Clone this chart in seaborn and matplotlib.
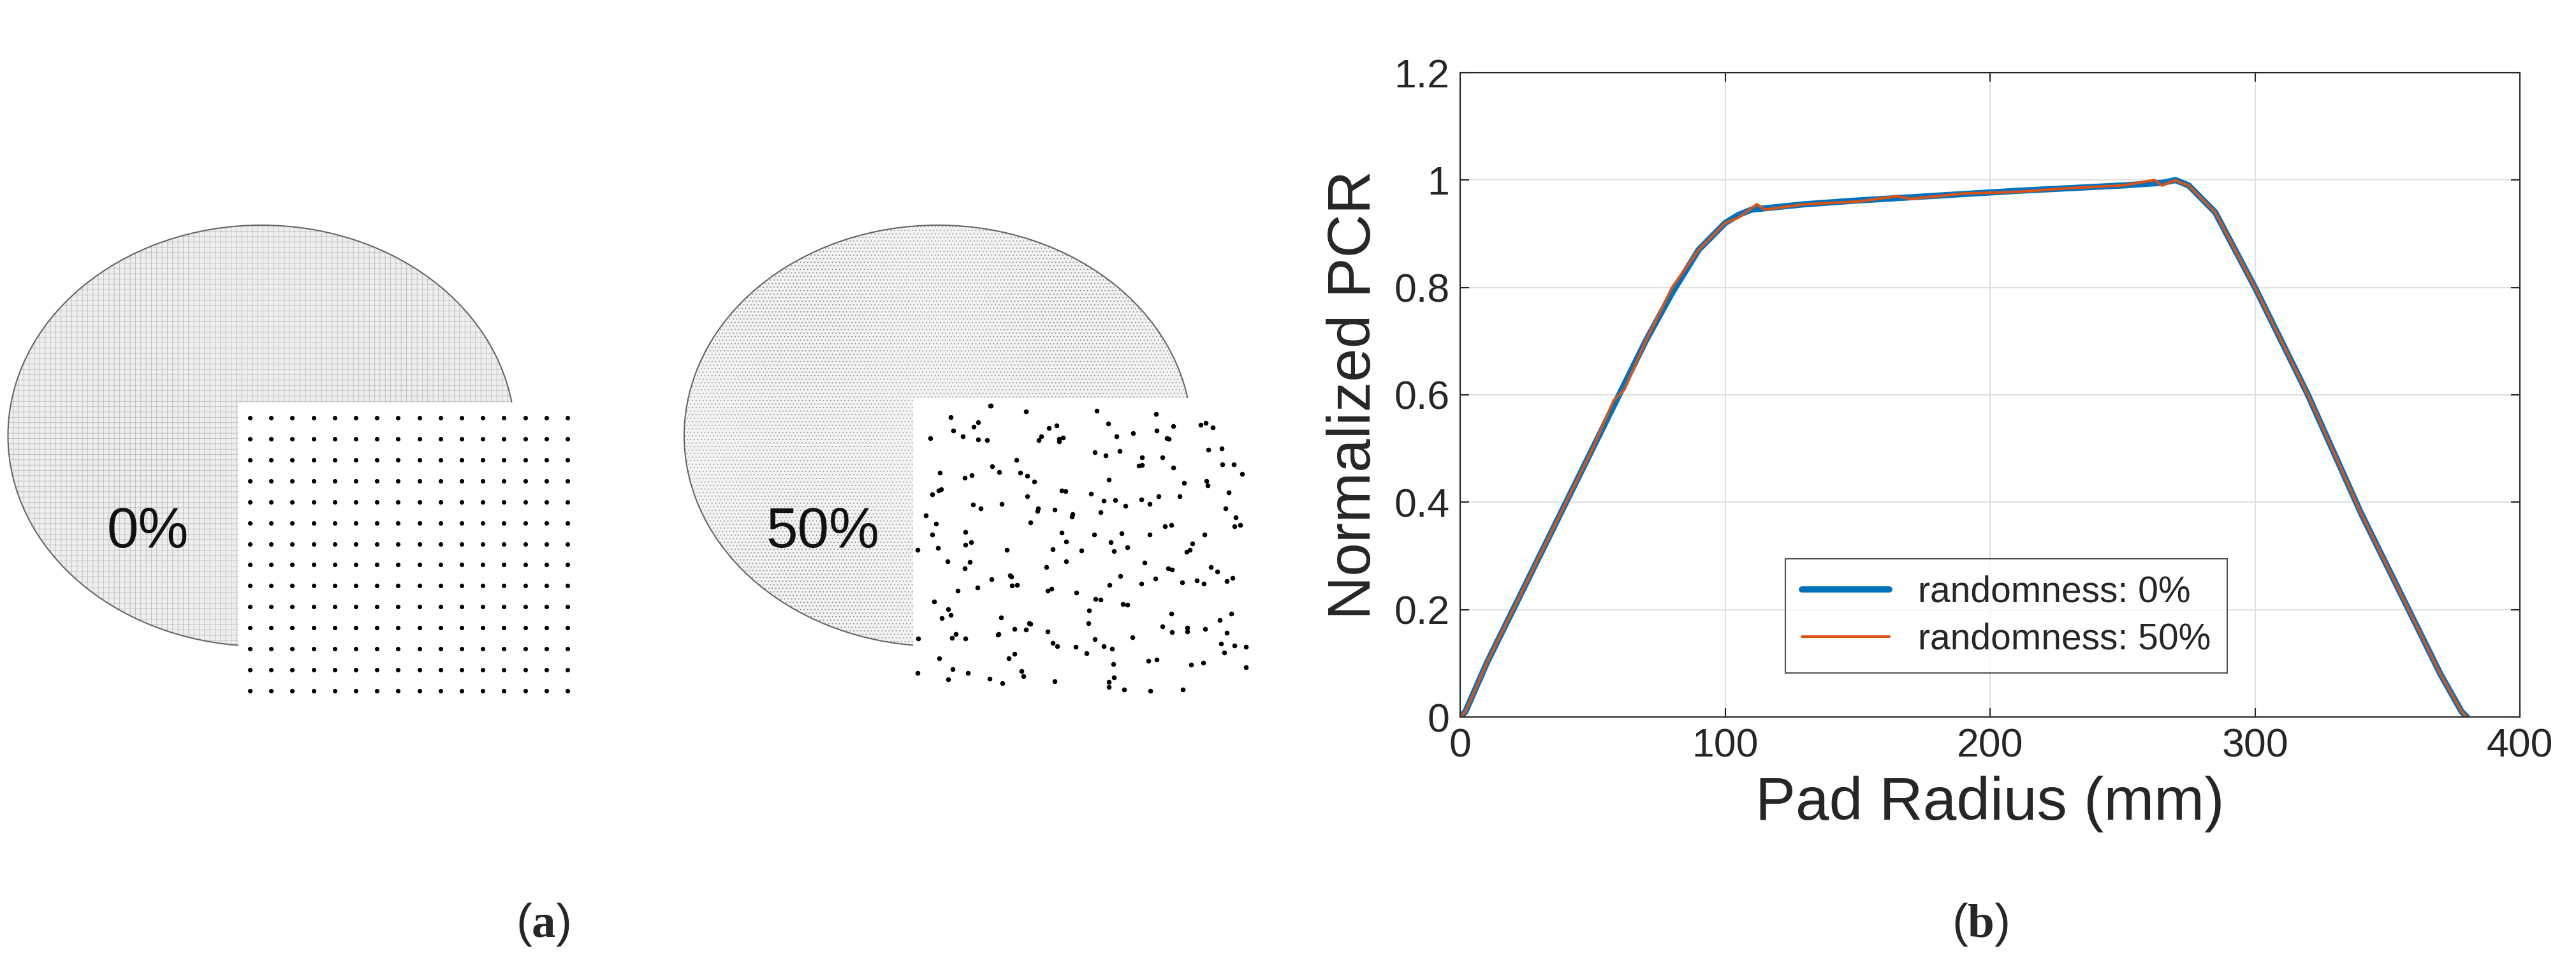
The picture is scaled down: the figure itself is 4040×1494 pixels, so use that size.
import numpy as np
import matplotlib
matplotlib.use("Agg")
import matplotlib.pyplot as plt
from matplotlib.patches import Ellipse, Rectangle
import seaborn as sns
import pandas as pd

sns.set_theme(style="white")
plt.rcParams['font.family'] = ['Liberation Sans', 'DejaVu Sans']
plt.rcParams['mathtext.fontset'] = 'custom'
plt.rcParams['mathtext.rm'] = 'Liberation Serif'
plt.rcParams['mathtext.bf'] = 'Liberation Serif:bold'

# ---- data (panel b) ----
radius_0 = [0, 2, 10, 20, 30, 40, 50, 60, 70, 80, 90, 100, 105, 110, 130, 150, 170, 190, 210, 230, 250, 265, 270, 275, 285, 300, 320, 340, 360, 370, 378, 380]
pcr_0 = [0.0, 0.01, 0.1, 0.2, 0.3, 0.4, 0.5, 0.6, 0.7, 0.79, 0.87, 0.92, 0.935, 0.945, 0.955, 0.962, 0.968, 0.974, 0.98, 0.985, 0.99, 0.995, 1.0, 0.99, 0.94, 0.8, 0.6, 0.38, 0.18, 0.08, 0.01, 0.0]
radius_50 = [0, 2, 10, 20, 30, 40, 50, 58, 62, 70, 80, 90, 100, 105, 112, 115, 130, 150, 165, 170, 190, 210, 230, 250, 262, 265, 270, 272, 275, 285, 300, 320, 340, 360, 370, 378, 380]
pcr_50 = [0.0, 0.01, 0.1, 0.2, 0.3, 0.4, 0.5, 0.59, 0.61, 0.7, 0.8, 0.87, 0.92, 0.93, 0.955, 0.945, 0.955, 0.96, 0.97, 0.965, 0.975, 0.978, 0.985, 0.99, 1.0, 0.99, 1.0, 0.995, 0.99, 0.94, 0.8, 0.6, 0.38, 0.18, 0.08, 0.01, 0.0]
series_labels = ["randomness: 0%", "randomness: 50%"]
xticks = [0, 100, 200, 300, 400]
yticks = [0, 0.2, 0.4, 0.6, 0.8, 1.0, 1.2]
ytick_labels = ["0", "0.2", "0.4", "0.6", "0.8", "1", "1.2"]

# ---- panel a illustration ----
grid_cols, grid_rows = 16, 14
pct_labels = ["0%", "50%"]

W, H = 4040, 1494
fig = plt.figure(figsize=(W/100, H/100), dpi=100)
fig.patch.set_facecolor("white")

axa = fig.add_axes([0, 0, 1, 1])
axa.set_xlim(0, W); axa.set_ylim(H, 0); axa.axis("off")

def draw_disk(cx, cy, w, h, hatch, fc, hc):
    axa.add_patch(Ellipse((cx, cy), w, h, facecolor=fc, edgecolor=hc, lw=0, hatch=hatch))
    axa.add_patch(Ellipse((cx, cy), w, h, facecolor="none", edgecolor="#666666", lw=1.5))

plt.rcParams['hatch.linewidth'] = 0.5
draw_disk(410, 683, 795, 660, "++", "#eeeeee", "#b5b5b5")
draw_disk(1471, 683, 796, 660, "...", "#f2f2f2", "#8a8a8a")

# left inset: regular grid
x0, x1, y0, y1 = 374, 898, 631, 1093
axa.add_patch(Rectangle((x0, y0), x1-x0, y1-y0, facecolor="white", edgecolor="none"))
gx = np.linspace(392, 890, grid_cols)
gy = np.linspace(655, 1083, grid_rows)
GX, GY = np.meshgrid(gx, gy)
axa.scatter(GX.ravel(), GY.ravel(), s=26, c="black", marker="o", linewidths=0)

# right inset: grid with 50% random displacement
rx0, rx1, ry0, ry1 = 1432, 1960, 624, 1093
axa.add_patch(Rectangle((rx0, ry0), rx1-rx0, ry1-ry0, facecolor="white", edgecolor="none"))
rng = np.random.default_rng(3)
spx = (rx1-rx0) / 16
spy = (ry1-ry0) / 14
hx = np.linspace(rx0+spx/2, rx1-spx/2, 16)
hy = np.linspace(ry0+spy/2, ry1-spy/2, 14)
HX, HY = np.meshgrid(hx, hy)
HX = HX + rng.uniform(-1, 1, HX.shape)*spx
HY = HY + rng.uniform(-1, 1, HY.shape)*spy
m = (HX > rx0+4) & (HX < rx1-4) & (HY > ry0+4) & (HY < ry1-4)
axa.scatter(HX[m], HY[m], s=30, c="black", marker="o", linewidths=0)

axa.text(232, 835, pct_labels[0], fontsize=64, ha="center", va="center", color="#111111")
axa.text(1290, 835, pct_labels[1], fontsize=64, ha="center", va="center", color="#111111")
axa.text(851, 1450, r"($\mathbf{a}$)", fontsize=54, ha="center", va="center")
axa.text(3106, 1450, r"($\mathbf{b}$)", fontsize=54, ha="center", va="center")

# ---- panel b ----
ax = fig.add_axes([2290/W, 1-1124/H, (3952-2290)/W, (1124-114)/H])
ax.set_zorder(2)
df0 = pd.DataFrame({"r": radius_0, "p": pcr_0})
df50 = pd.DataFrame({"r": radius_50, "p": pcr_50})
sns.lineplot(data=df0, x="r", y="p", ax=ax, color="#0072BD", lw=7, label=series_labels[0], sort=False)
sns.lineplot(data=df50, x="r", y="p", ax=ax, color="#D95319", lw=3, label=series_labels[1], sort=False)
ax.set_xlim(0, 400); ax.set_ylim(0, 1.2)
ax.set_xticks(xticks); ax.set_yticks(yticks); ax.set_yticklabels(ytick_labels)
ax.grid(True, color="#e0e0e0", lw=1.5)
for s in ax.spines.values():
    s.set_color("#262626"); s.set_linewidth(1.5); s.set_visible(True)
ax.tick_params(direction="in", length=10, width=1.5, labelsize=45, colors="#262626",
               top=True, right=True, bottom=True, left=True, labeltop=False, labelright=False, pad=12)
ax.set_xlabel("Pad Radius (mm)", fontsize=68, color="#262626", labelpad=12)
ax.set_ylabel("Normalized PCR", fontsize=68, color="#262626", labelpad=12)
leg = ax.legend(loc="lower left", bbox_to_anchor=(0.29, 0.04), fontsize=41, frameon=True,
                fancybox=False, edgecolor="#262626", handlelength=2.4, borderpad=0.45, labelspacing=0.35)
leg.get_frame().set_linewidth(1.5)

fig.savefig("out.png", dpi=100, facecolor="white")
